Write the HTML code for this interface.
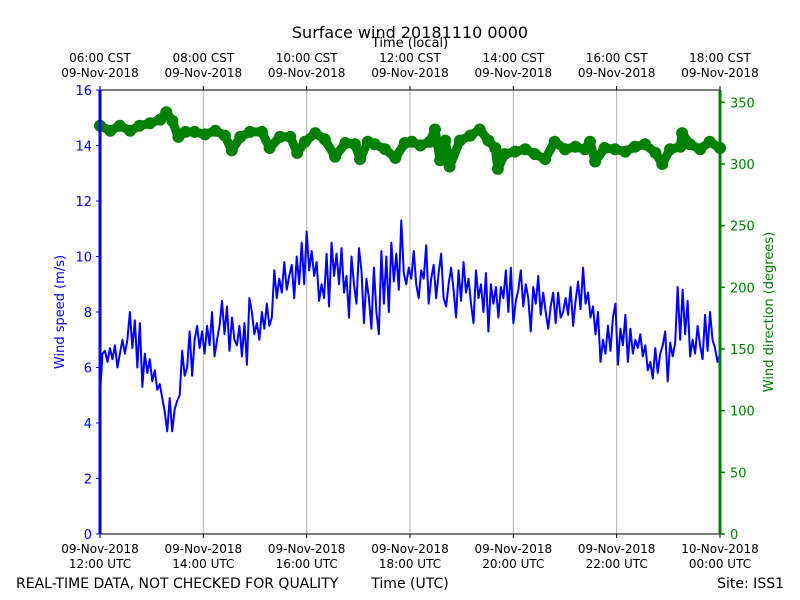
<!DOCTYPE html>
<html><head><meta charset="utf-8"><style>
body{margin:0;background:#fff;}
svg{display:block;font-family:"DejaVu Sans","Liberation Sans",sans-serif;}
</style></head><body>
<svg id="chart" width="800" height="600" viewBox="0 0 800 600">
<rect x="0" y="0" width="800" height="600" fill="#fff"/>
<g id="grid"></g>
<g id="series"></g>
<g id="axes"></g>
<text x="410" y="38" font-size="16" text-anchor="middle">Surface wind 20181110 0000</text>
<text x="410" y="47" font-size="13" text-anchor="middle">Time (local)</text>
<text x="16" y="588" font-size="14">REAL-TIME DATA, NOT CHECKED FOR QUALITY</text>
<text x="410" y="588" font-size="14" text-anchor="middle">Time (UTC)</text>
<text x="784" y="588" font-size="14" text-anchor="end">Site: ISS1</text>
<text transform="translate(64,312) rotate(-90)" font-size="13" fill="#0000ff" text-anchor="middle">Wind speed (m/s)</text>
<text transform="translate(773,312) rotate(-90)" font-size="13" fill="#008000" text-anchor="middle">Wind direction (degrees)</text>
</svg>
<script>
const speedValues=[5.0,6.5,6.6,6.2,6.7,6.3,6.8,6.0,6.5,7.0,6.5,7.0,8.0,6.7,7.7,6.0,7.6,5.3,6.5,5.8,6.3,5.5,5.9,5.2,5.4,4.9,4.4,3.7,4.9,3.7,4.5,4.8,5.0,6.6,5.7,6.0,7.3,5.7,7.0,7.5,6.7,7.3,6.5,7.5,6.8,8.0,6.4,7.0,7.5,8.4,7.2,8.2,6.6,7.8,7.0,6.8,7.5,6.4,7.6,6.1,8.5,8.0,7.2,7.6,7.0,8.0,7.4,8.3,7.5,7.8,9.5,8.5,9.2,8.7,9.8,8.8,9.3,9.7,8.5,10.0,9.0,10.5,9.0,10.9,9.5,10.2,9.3,9.8,8.4,9.0,8.5,10.1,8.2,10.5,9.3,10.1,9.0,10.3,8.7,9.3,7.8,10.0,9.0,8.3,10.3,9.5,7.6,9.2,8.5,7.4,9.6,8.0,7.2,10.2,8.3,10.0,8.0,10.5,9.1,10.1,8.8,11.3,9.4,9.0,9.6,9.2,10.2,9.0,8.5,9.5,9.2,10.4,8.3,9.2,9.7,8.5,9.4,10.1,8.5,8.2,9.0,9.6,8.8,7.8,9.5,8.4,9.8,8.7,9.2,8.3,7.6,9.5,8.5,9.0,8.0,9.4,7.3,9.0,8.3,8.9,7.8,8.9,8.5,9.5,8.0,9.6,7.6,8.4,8.8,9.5,8.2,9.0,8.5,7.3,8.9,8.3,9.3,7.9,8.7,8.0,7.4,8.2,8.7,7.6,8.7,7.8,8.0,8.5,7.9,8.9,7.5,8.4,9.1,8.1,9.6,8.3,8.7,7.8,8.2,7.2,8.0,6.2,7.0,6.5,7.5,6.6,7.8,8.3,6.1,7.4,6.8,7.9,6.2,7.4,6.5,7.0,6.7,7.2,6.4,6.8,5.9,6.2,5.6,6.7,5.8,6.5,6.8,7.3,5.5,6.9,6.4,6.9,8.9,7.0,8.8,7.2,8.4,6.4,7.0,6.5,7.5,6.8,6.3,7.9,6.6,8.0,7.0,6.7,6.2,6.5];
const dirMinutes=[0,12,23,35,46,58,70,77,84,91,99,110,122,134,145,153,163,174,188,197,209,221,229,238,250,261,273,285,296,302,311,319,331,343,354,362,372,383,389,395,401,406,418,430,441,451,459,462,470,482,494,505,517,528,540,552,563,569,575,586,598,610,621,633,645,653,662,674,676,685,697,708,720];
const dirValues=[331,327,331,327,331,333,336,342,335,322,326,326,324,327,323,311,322,326,326,313,322,322,309,318,325,320,306,317,316,304,318,316,312,305,317,318,315,318,328,303,319,298,319,323,328,319,313,296,308,310,312,308,304,318,312,314,312,318,302,313,312,310,314,316,309,300,312,314,325,316,312,318,313];
const bottomTickLabels=[["09-Nov-2018","12:00 UTC"],["09-Nov-2018","14:00 UTC"],["09-Nov-2018","16:00 UTC"],["09-Nov-2018","18:00 UTC"],["09-Nov-2018","20:00 UTC"],["09-Nov-2018","22:00 UTC"],["10-Nov-2018","00:00 UTC"]];
const topTickLabels=[["06:00 CST","09-Nov-2018"],["08:00 CST","09-Nov-2018"],["10:00 CST","09-Nov-2018"],["12:00 CST","09-Nov-2018"],["14:00 CST","09-Nov-2018"],["16:00 CST","09-Nov-2018"],["18:00 CST","09-Nov-2018"]];
const speedTicks=[0,2,4,6,8,10,12,14,16];
const dirTicks=[0,50,100,150,200,250,300,350];

const L=100,R=720,T=90,B=534,NS="http://www.w3.org/2000/svg";
const xS=m=>L+(m/720)*(R-L);
const yS=v=>B-(v/16)*(B-T);
const yD=d=>B-(d/360)*(B-T);
function mk(tag,attrs,parent){const e=document.createElementNS(NS,tag);for(const k in attrs)e.setAttribute(k,attrs[k]);parent.appendChild(e);return e;}
const grid=document.getElementById('grid'),ser=document.getElementById('series'),ax=document.getElementById('axes');

bottomTickLabels.forEach((lab,i)=>{
  const x=xS(i*120);
  if(i>0&&i<6){const g=mk('line',{x1:x,x2:x,y1:T,y2:B,stroke:'#b0b0b0','stroke-width':1},grid);
    
    }
  mk('line',{x1:x,x2:x,y1:B,y2:B+4,stroke:'#000'},ax);
  const t=mk('text',{x:x,y:553,'font-size':12,'text-anchor':'middle'},ax);
  
  
  mk('tspan',{x:x},t).textContent=lab[0];
  mk('tspan',{x:x,dy:15},t).textContent=lab[1];
});
topTickLabels.forEach((lab,i)=>{
  const x=xS(i*120);
  mk('line',{x1:x,x2:x,y1:T,y2:T-4,stroke:'#000'},ax);
  const t=mk('text',{x:x,y:62,'font-size':12,'text-anchor':'middle'},ax);
  
  
  mk('tspan',{x:x},t).textContent=lab[0];
  mk('tspan',{x:x,dy:15},t).textContent=lab[1];
});
speedTicks.forEach(v=>{
  const y=yS(v);
  mk('line',{x1:L,x2:L-4,y1:y,y2:y,stroke:'#0000ff'},ax);
  const t=mk('text',{x:L-8,y:y+5,'font-size':13,'text-anchor':'end',fill:'#0000ff'},ax);
  
  
  t.textContent=v;
});
dirTicks.forEach(v=>{
  const y=yD(v);
  mk('line',{x1:R,x2:R+5,y1:y,y2:y,stroke:'#008000','stroke-width':1.5},ax);
  const t=mk('text',{x:R+10,y:y+5,'font-size':13,fill:'#008000'},ax);
  
  
  t.textContent=v;
});
const n=speedValues.length;
const sp=mk('polyline',{points:speedValues.map((v,i)=>xS(i*720/(n-1))+','+yS(v)).join(' '),fill:'none',stroke:'#0000ff','stroke-width':2,'stroke-linejoin':'round'},ser);


const dl=mk('polyline',{points:dirValues.map((v,i)=>xS(dirMinutes[i])+','+yD(v)).join(' '),fill:'none',stroke:'#008000','stroke-width':9,'stroke-linejoin':'round','stroke-linecap':'round'},ser);


dirValues.forEach((v,i)=>{
  const c=mk('circle',{cx:xS(dirMinutes[i]),cy:yD(v),r:6,fill:'#008000'},ser);
  
  
});
mk('line',{x1:L,x2:R,y1:T,y2:T,stroke:'#000'},ax);
mk('line',{x1:L,x2:R,y1:B,y2:B,stroke:'#000'},ax);
mk('line',{x1:L,x2:L,y1:T,y2:B,stroke:'#0000ff','stroke-width':3},ax);
mk('line',{x1:R,x2:R,y1:T,y2:B,stroke:'#008000','stroke-width':3},ax);
</script>
</body></html>
